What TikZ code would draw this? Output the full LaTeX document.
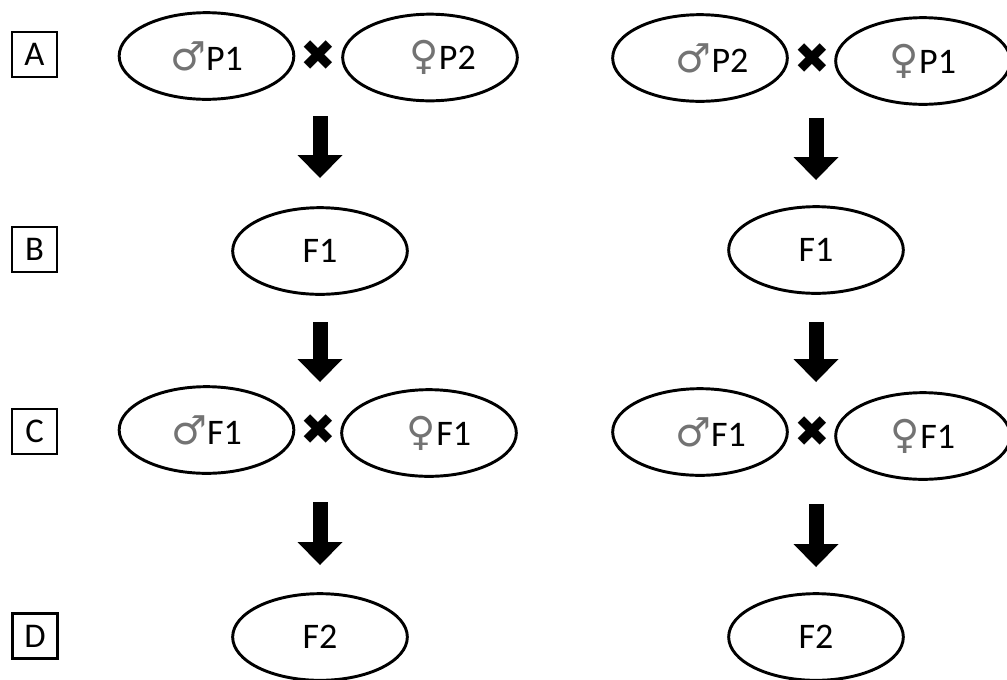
\documentclass[tikz,border=0pt]{standalone}
\usepackage{fontspec}
\setmainfont{Carlito}
\newfontfamily\symfont{DejaVu Sans}
\usetikzlibrary{arrows.meta}
\usetikzlibrary{shapes.geometric}

\newcommand{\msym}{{\symfont\fontsize{30}{30}\selectfont\color{black!55}♂}}
\newcommand{\fsym}{{\symfont\fontsize{30}{30}\selectfont\color{black!55}♀}}

\begin{document}
\begin{tikzpicture}[x=0.75pt, y=-0.75pt,
  gen/.style={draw, line width=1.8pt, minimum size=33.75pt, inner sep=0pt, font=\fontsize{26}{30}\selectfont},
  plant/.style={draw, ellipse, line width=2.2pt, minimum width=131pt, minimum height=65pt, inner sep=0pt, font=\fontsize{27}{30}\selectfont},
  cross/.style={inner sep=0pt, font=\symfont\fontsize{32}{32}\selectfont},
  down/.style={-{Triangle[width=33.75pt, length=17.25pt, line width=0pt]}, line width=11.25pt}]

  \useasboundingbox (0,0) rectangle (1007,679);

  % row labels
  \node [gen] (A) at (34.5,54.5) {A};
  \node [gen] (B) at (34.5,249.5) {B};
  \node [gen] (C) at (34.5,431.5) {C};
  \node [gen] (D) at (35,636) {D};

  % left cross
  \node [plant] (P1m) at (206.5,56) {\msym P1};
  \node [cross] (XA1) at (318,56) {✖};
  \node [plant] (P2f) at (430,57.5) {\hspace*{19pt}\fsym P2};
  \node [plant] (F1a) at (320,251) {F1};
  \node [plant] (F1m1) at (206.5,430) {\msym F1};
  \node [cross] (XC1) at (318,430) {✖};
  \node [plant] (F1f1) at (429,433) {\hspace*{15pt}\fsym F1};
  \node [plant] (F2a) at (320,637) {F2};

  % reciprocal cross
  \node [plant] (P2m) at (700,58) {\hspace*{18pt}\msym P2};
  \node [cross] (XA2) at (812,59) {✖};
  \node [plant] (P1f) at (923,61) {\fsym P1};
  \node [plant] (F1b) at (816,250) {F1};
  \node [plant] (F1m2) at (700,432) {\hspace*{16pt}\msym F1};
  \node [cross] (XC2) at (812,432) {✖};
  \node [plant] (F1f2) at (923,436) {\fsym F1};
  \node [plant] (F2b) at (816,637) {F2};

  \draw [down, shorten <=45pt, shorten >=54.75pt] (F1a |- XA1) -- (F1a.center);
  \draw [down, shorten <=53.25pt, shorten >=36pt] (F1a.center) -- (F1a |- XC1);
  \draw [down, shorten <=54pt, shorten >=54pt] (F2a |- XC1) -- (F2a.center);

  \draw [down, shorten <=44.25pt, shorten >=52.5pt] (F1b |- XA2) -- (F1b.center);
  \draw [down, shorten <=54pt, shorten >=37.5pt] (F1b.center) -- (F1b |- XC2);
  \draw [down, shorten <=54pt, shorten >=52.5pt] (F2b |- XC2) -- (F2b.center);

\end{tikzpicture}
\end{document}
